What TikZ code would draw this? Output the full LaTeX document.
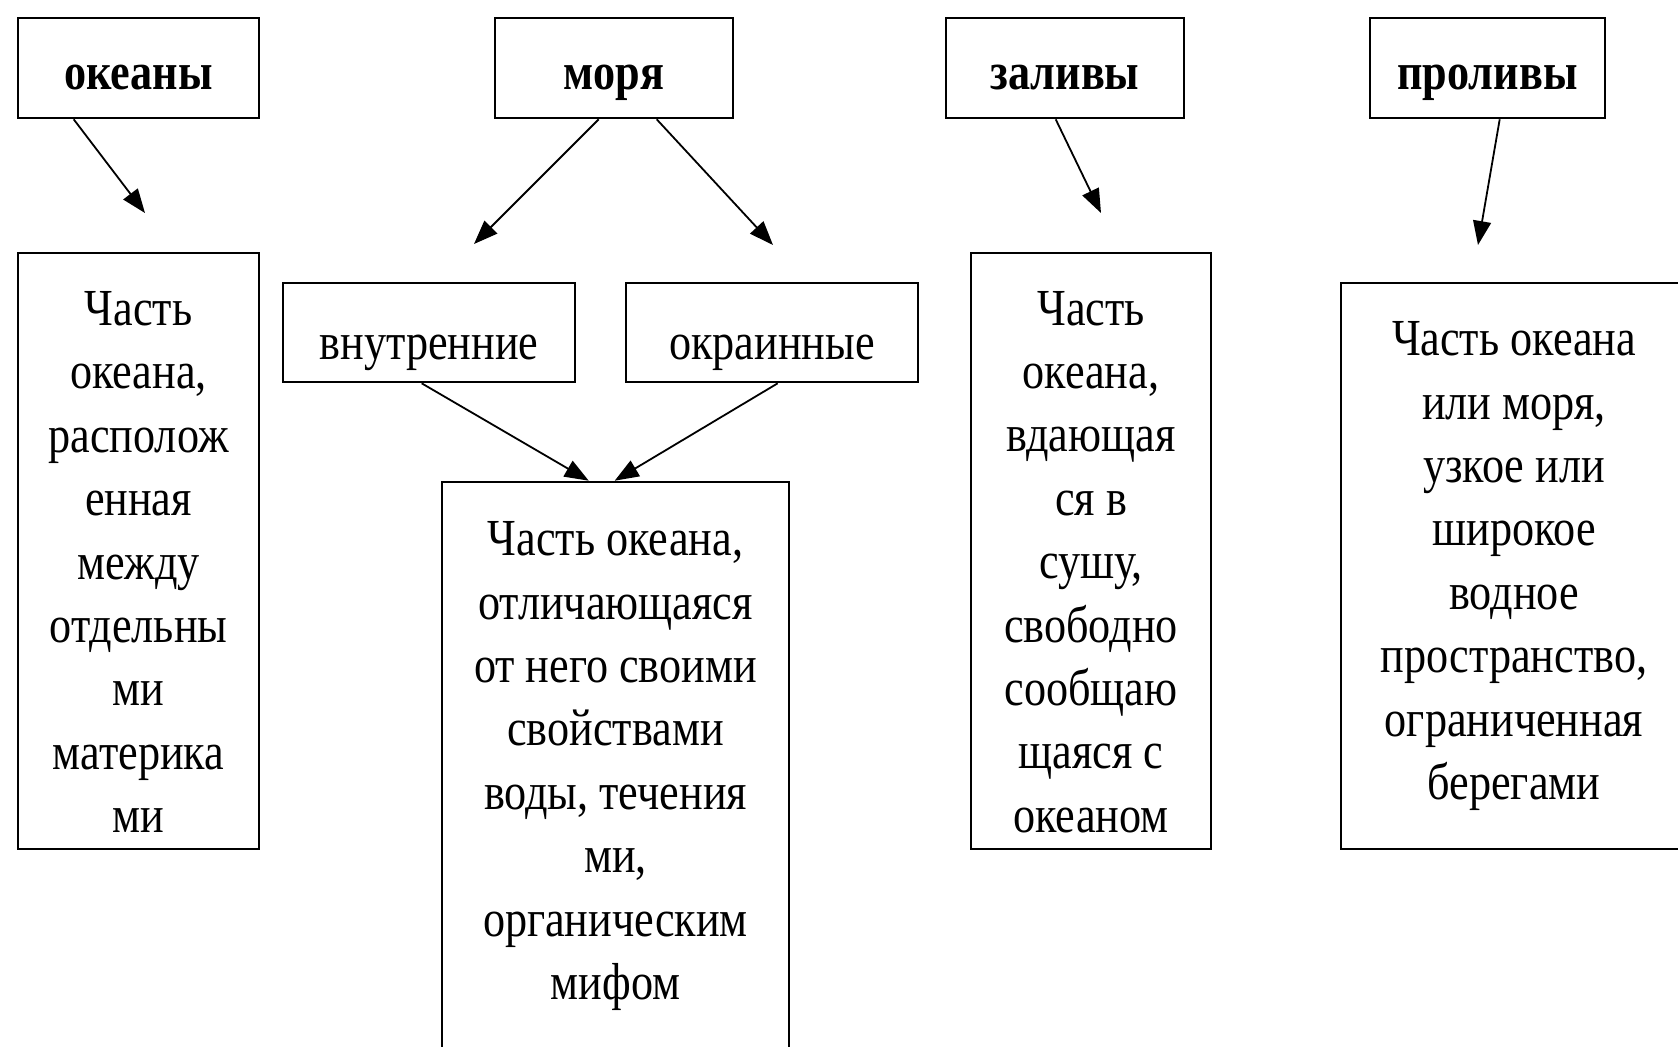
\documentclass[tikz,border=0pt]{standalone}
\usepackage{fontspec}
\setmainfont[FakeStretch=0.85]{Liberation Serif}
\usetikzlibrary{arrows.meta,calc}
\begin{document}
\begin{tikzpicture}[x=0.5pt,y=-0.5pt,
  box/.style={draw, line width=1.3pt, inner sep=0pt, align=center, font=\fontsize{26}{31.7}\selectfont},
  head/.style={box, font=\bfseries\fontsize{26}{32}\selectfont, text height=21pt, text depth=0pt},
  mid/.style={box, text height=27pt, text depth=0pt},
  conn/.style={line width=0.9pt, -{Triangle[length=12pt,width=9pt]}}]
\fill[white] (0,0) rectangle (1678,1046);
\useasboundingbox (0,0) rectangle (1678,1046);

\node[head, minimum width=120.5pt, minimum height=50pt] (oke) at (138.5,68) {океаны};
\node[head, minimum width=119pt, minimum height=50pt] (mor) at (614,68) {моря};
\node[head, minimum width=119pt, minimum height=50pt] (zal) at (1065,68) {заливы};
\node[head, minimum width=117.5pt, minimum height=50pt] (pro) at (1487.5,68) {проливы};

\node[box, minimum width=120.5pt, minimum height=298pt] (okeT) at (138.5,551) {\rule{0pt}{28pt}Часть\\океана,\\располож\\енная\\между\\отдельны\\ми\\материка\\ми};

\node[mid, minimum width=146pt, minimum height=49.5pt] (vnu) at (429,332.5) {внутренние};
\node[mid, minimum width=146pt, minimum height=49.5pt] (okr) at (772,332.5) {окраинные};

\node[box, minimum width=173.5pt, minimum height=284pt] (morT) at (615.5,766) {Часть океана,\\отличающаяся\\от него своими\\свойствами\\воды, течения\\ми,\\органическим\\мифом};

\node[box, minimum width=120pt, minimum height=298pt] (zalT) at (1091,551) {\rule{0pt}{28pt}Часть\\океана,\\вдающая\\ся в\\сушу,\\свободно\\сообщаю\\щаяся с\\океаном};

\node[box, minimum width=173pt, minimum height=283pt] (proT) at (1514,566) {Часть океана\\или моря,\\узкое или\\широкое\\водное\\пространство,\\ограниченная\\берегами};

\coordinate (t1) at (145,213);
\coordinate (t2) at (474,244);
\coordinate (t3) at (773,245);
\coordinate (t4) at (1101,213);
\coordinate (t5) at (1478,245);

\draw[conn] ($(oke.south west)+(57,0)$) -- (t1);
\draw[conn] ($(mor.south west)+(105,0)$) -- (t2);
\draw[conn] ($(mor.south west)+(163,0)$) -- (t3);
\draw[conn] ($(zal.south west)+(111,0)$) -- (t4);
\draw[conn] ($(pro.south west)+(131,0)$) -- (t5);
\draw[conn] ($(vnu.south west)+(140,0)$) -- ($(morT.north west)+(148,0)$);
\draw[conn] ($(okr.south west)+(153,0)$) -- ($(morT.north west)+(174,0)$);
\end{tikzpicture}
\end{document}
